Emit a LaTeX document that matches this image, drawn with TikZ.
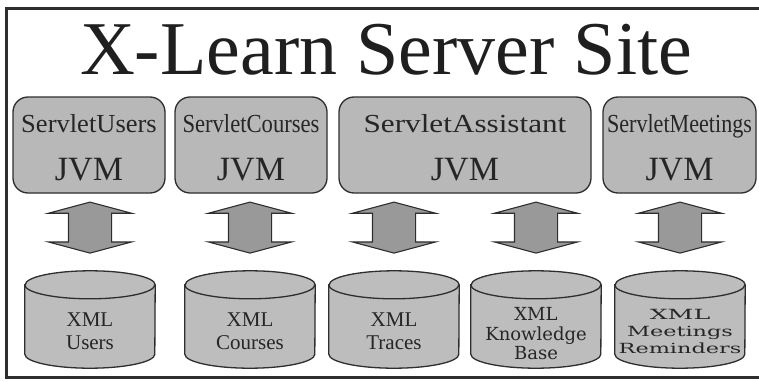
\documentclass[tikz,border=0pt]{standalone}
\usepackage{fontspec}
\setmainfont{Liberation Serif}
\newfontfamily\widefont{DejaVu Serif}
\usetikzlibrary{positioning,calc,shapes.arrows}
\definecolor{boxgray}{rgb}{0.72,0.72,0.72}
\definecolor{arrowgray}{rgb}{0.60,0.60,0.60}
\definecolor{cylgray}{rgb}{0.74,0.74,0.74}
\definecolor{edgegray}{rgb}{0.18,0.18,0.18}

\tikzset{
  srvbox/.style={draw=edgegray,line width=1.3pt,fill=boxgray,rounded corners=15pt,minimum height=96pt,inner sep=0pt},
  srvname/.style={anchor=base,inner sep=0pt,font=\fontsize{26}{26}\selectfont,text=black!85},
  jvm/.style={anchor=base,inner sep=0pt,font=\fontsize{34}{34}\selectfont,text=black!85},
  db/.style={minimum width=130pt,minimum height=97pt,inner sep=0pt},
  dbline/.style={draw=edgegray,line width=1.3pt,fill=cylgray},
  dbtext/.style={align=center,inner sep=0pt,font=\fontsize{21}{23}\selectfont,text=black!85},
  dblarrow/.style={double arrow,shape border rotate=90,draw=edgegray,line width=1.1pt,fill=arrowgray,minimum height=51pt,inner xsep=21pt,inner ysep=0pt,double arrow head extend=20pt,double arrow tip angle=150}
}

\begin{document}
\begin{tikzpicture}[x=1pt,y=1pt]
\useasboundingbox (0,0) rectangle (759,381);
\draw[line width=3pt,edgegray] (759,372) -- (6,372) -- (6,4) -- (759,4);
\node[anchor=base,inner sep=0pt,font=\fontsize{76}{76}\selectfont,text=black!88] (title) at (386,306) {X-Learn Server Site};
% servlets
\foreach \nm/\x/\w/\sx in {Users/89/152/1.02,Courses/251/152/0.87,Assistant/465/252/1.2,Meetings/679.5/153/0.85}{
  \node[srvbox,minimum width=\w pt] (s\nm) at (\x,236) {};
  \node[srvname] (n\nm) at (\x,249) {\scalebox{\sx}[1]{Servlet\nm}};
  \node[jvm] (j\nm) at (\x,201) {JVM};
}
% xml files
\foreach \nm/\x in {Users/90,Courses/250,Traces/394,Knowledge/536,Meetings/680}{
  \node[db] (x\nm) at (\x,61.5) {};
  \path[dbline] ([yshift=-14pt]x\nm.north west) -- ([yshift=14pt]x\nm.south west)
    arc[start angle=180,end angle=360,x radius=65pt,y radius=14pt]
    -- ([yshift=-14pt]x\nm.north east)
    arc[start angle=0,end angle=180,x radius=65pt,y radius=14pt] -- cycle;
  \draw[edgegray,line width=1.3pt] ([yshift=-14pt]x\nm.north west)
    arc[start angle=180,end angle=360,x radius=65pt,y radius=14pt];
}
\node[dbtext] (lUsers) at (90,49.5) {XML\\Users};
\node[dbtext] (lCourses) at (250,49.5) {XML\\Courses};
\node[dbtext] (lTraces) at (394,49.5) {XML\\Traces};
\node[dbtext,font=\widefont\fontsize{18}{19.5}\selectfont] (lKnowledge) at (536,47) {XML\\Knowledge\\Base};
\node[dbtext,font=\widefont\fontsize{14}{17}\selectfont] (lMeetings) at (680,50)
  {\scalebox{1.8}[1]{XML}\\\scalebox{1.6}[1]{Meetings}\\\scalebox{1.6}[1]{Reminders}};
% links
\foreach \s/\c in {Users/Users,Courses/Courses,Assistant/Traces,Assistant/Knowledge,Meetings/Meetings}
  \node[dblarrow] (a\c) at ($(s\s.south -| x\c.north)!0.44!(x\c.north)$) {};
\end{tikzpicture}
\end{document}
